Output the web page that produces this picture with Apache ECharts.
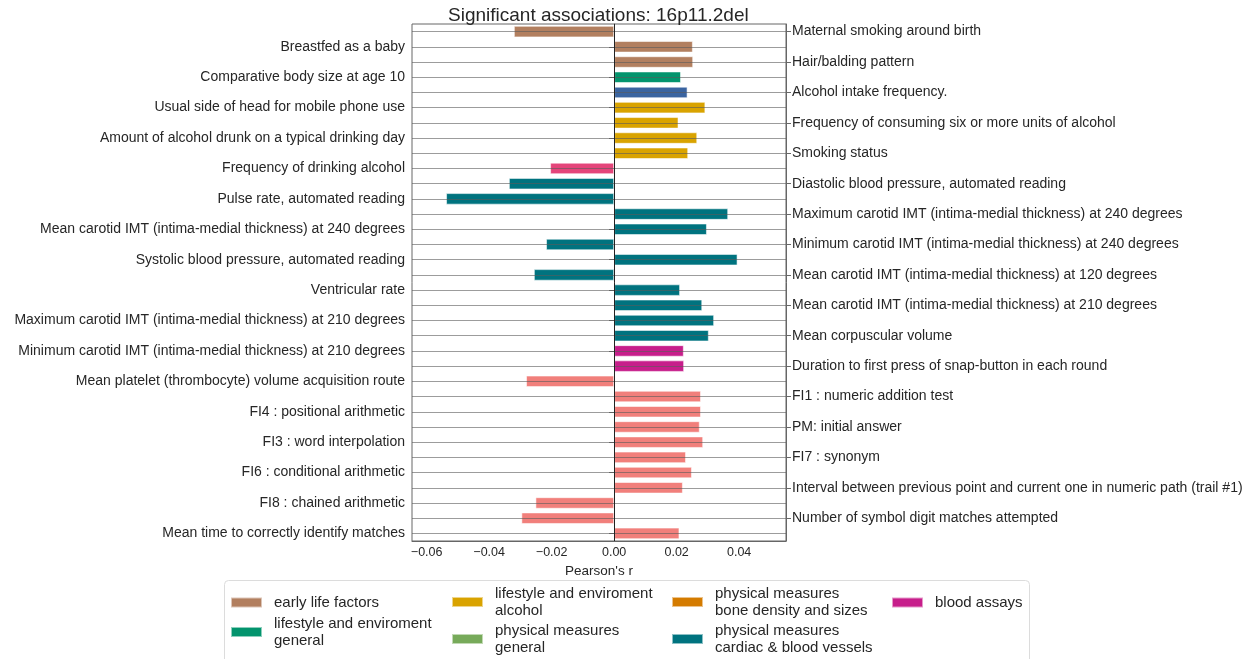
<!DOCTYPE html>
<html>
<head>
<meta charset="utf-8">
<script src="https://cdn.jsdelivr.net/npm/echarts@6/dist/echarts.min.js"></script>
<style>
  html, body { margin: 0; padding: 0; background: #fff; }
  #chart { width: 1255px; height: 659px; }
</style>
</head>
<body>
<div id="chart"></div>
<script>
// Rows from top to bottom; labels alternate between the left and right axis.
const rowLabels = [
  'Maternal smoking around birth',
  'Breastfed as a baby',
  'Hair/balding pattern',
  'Comparative body size at age 10',
  'Alcohol intake frequency.',
  'Usual side of head for mobile phone use',
  'Frequency of consuming six or more units of alcohol',
  'Amount of alcohol drunk on a typical drinking day',
  'Smoking status',
  'Frequency of drinking alcohol',
  'Diastolic blood pressure, automated reading',
  'Pulse rate, automated reading',
  'Maximum carotid IMT (intima-medial thickness) at 240 degrees',
  'Mean carotid IMT (intima-medial thickness) at 240 degrees',
  'Minimum carotid IMT (intima-medial thickness) at 240 degrees',
  'Systolic blood pressure, automated reading',
  'Mean carotid IMT (intima-medial thickness) at 120 degrees',
  'Ventricular rate',
  'Mean carotid IMT (intima-medial thickness) at 210 degrees',
  'Maximum carotid IMT (intima-medial thickness) at 210 degrees',
  'Mean corpuscular volume',
  'Minimum carotid IMT (intima-medial thickness) at 210 degrees',
  'Duration to first press of snap-button in each round',
  'Mean platelet (thrombocyte) volume acquisition route',
  'FI1 : numeric addition test',
  'FI4 : positional arithmetic',
  'PM: initial answer',
  'FI3 : word interpolation',
  'FI7 : synonym',
  'FI6 : conditional arithmetic',
  'Interval between previous point and current one in numeric path (trail #1)',
  'FI8 : chained arithmetic',
  'Number of symbol digit matches attempted',
  'Mean time to correctly identify matches'
];

// Pearson's r per row
const pearsonR = [
  -0.0321, 0.0252, 0.0253, 0.0214, 0.0235, 0.0292, 0.0206, 0.0266, 0.0237,
  -0.0205, -0.0337, -0.0538, 0.0365, 0.0297, -0.0218, 0.0395, -0.0257,
  0.0211, 0.0282, 0.0320, 0.0303, 0.0223, 0.0224, -0.0282, 0.0278,
  0.0278, 0.0274, 0.0285, 0.0230, 0.0249, 0.0220, -0.0252, -0.0297, 0.0209
];

// Category of each row
const rowGroup = [
  'early', 'early', 'early', 'lifeGeneral', 'alcoholIntake',
  'alcohol', 'alcohol', 'alcohol', 'alcohol', 'drinking',
  'cardiac', 'cardiac', 'cardiac', 'cardiac', 'cardiac', 'cardiac', 'cardiac',
  'cardiac', 'cardiac', 'cardiac', 'cardiac', 'blood', 'blood',
  'cognitive', 'cognitive', 'cognitive', 'cognitive', 'cognitive', 'cognitive',
  'cognitive', 'cognitive', 'cognitive', 'cognitive', 'cognitive'
];

const groupKeys = ['early', 'lifeGeneral', 'alcoholIntake', 'alcohol', 'drinking',
  'physGeneral', 'bone', 'cardiac', 'blood', 'cognitive'];

const groupNames = {
  early: 'early life factors',
  lifeGeneral: 'lifestyle and enviroment general',
  alcoholIntake: 'alcohol intake',
  alcohol: 'lifestyle and enviroment alcohol',
  drinking: 'drinking frequency',
  physGeneral: 'physical measures general',
  bone: 'physical measures bone density and sizes',
  cardiac: 'physical measures cardiac & blood vessels',
  blood: 'blood assays',
  cognitive: 'cognitive function'
};

const legendText = {
  early: 'early life factors',
  lifeGeneral: 'lifestyle and enviroment\ngeneral',
  alcohol: 'lifestyle and enviroment\nalcohol',
  physGeneral: 'physical measures\ngeneral',
  bone: 'physical measures\nbone density and sizes',
  cardiac: 'physical measures\ncardiac & blood vessels',
  blood: 'blood assays'
};

const groupColors = {
  early: '#b27f5f',
  lifeGeneral: '#03946d',
  alcoholIntake: '#3a64a0',
  alcohol: '#d9a300',
  drinking: '#e4457a',
  physGeneral: '#77aa5a',
  bone: '#d47b00',
  cardiac: '#00737f',
  blood: '#c71e8b',
  cognitive: '#f17f7b'
};

const xTicks = [-0.06, -0.04, -0.02, 0, 0.02, 0.04];

const FONT = "'Liberation Sans', Arial, sans-serif";
const TEXT = '#262626';
const FRAME = '#666666';

// legend slots: [key, left, top]
const legendSlots = [
  ['early', 230, 594],
  ['lifeGeneral', 230, 615],
  ['alcohol', 451, 585],
  ['physGeneral', 451, 622],
  ['bone', 671, 585],
  ['cardiac', 671, 622],
  ['blood', 891, 594]
];

const series = groupKeys.map((g, gi) => {
  const s = {
    name: groupNames[g],
    type: 'bar',
    stack: 'r',
    barWidth: '76%',
    yAxisIndex: 0,
    color: groupColors[g],
    itemStyle: { color: groupColors[g], borderColor: 'rgba(255,255,255,0.55)', borderWidth: 1 },
    data: pearsonR.map((v, i) => (rowGroup[i] === g ? v : '-')),
    silent: true,
    animation: false
  };
  if (gi === 0) {
    s.markLine = {
      silent: true,
      symbol: 'none',
      z: 10,
      animation: false,
      label: { show: false },
      data: rowLabels.map(l => ({ yAxis: l, lineStyle: { color: 'rgba(90,90,90,0.6)', width: 1, type: 'solid' } }))
        .concat([{ xAxis: 0, lineStyle: { color: '#222', width: 1, type: 'solid' } }])
    };
  }
  return s;
});

const legends = legendSlots.map(([key, left, top]) => ({
  data: [groupNames[key]],
  left: left,
  top: top,
  padding: 0,
  orient: 'vertical',
  icon: 'rect',
  itemWidth: 31,
  itemHeight: 10,
  selectedMode: false,
  formatter: () => legendText[key],
  textStyle: { fontFamily: FONT, fontSize: 15, color: TEXT, lineHeight: 17, padding: [0, 0, 0, 7] }
}));

const catAxis = (pos, keep, margin) => ({
  type: 'category',
  position: pos,
  data: rowLabels,
  inverse: true,
  axisLine: { show: true, lineStyle: { color: FRAME, width: 1 } },
  axisTick: { show: true, alignWithLabel: true, interval: (i) => keep(i), length: 5, lineStyle: { color: FRAME } },
  axisLabel: { interval: (i) => keep(i), fontFamily: FONT, fontSize: 14, color: TEXT, margin: margin, padding: [2, 0, 0, 0] },
  splitLine: { show: false }
});

const chart = echarts.init(document.getElementById('chart'), null, { renderer: 'canvas' });
chart.setOption({
  animation: false,
  backgroundColor: '#fff',
  title: {
    text: 'Significant associations: 16p11.2del',
    left: 448,
    top: 6,
    padding: 0,
    textStyle: { fontFamily: FONT, fontSize: 19, fontWeight: 'normal', color: TEXT }
  },
  graphic: [{
    type: 'rect',
    shape: { x: 224.5, y: 580.5, width: 805, height: 110, r: 4 },
    style: { fill: '#fff', stroke: '#dcdcdc', lineWidth: 1 },
    z: -1,
    silent: true
  }],
  legend: legends,
  grid: {
    left: 412, top: 24, width: 374, height: 517,
    show: true, borderColor: FRAME, borderWidth: 1, backgroundColor: 'transparent'
  },
  xAxis: {
    type: 'value',
    min: -0.0647,
    max: 0.055,
    name: "Pearson's r",
    nameLocation: 'middle',
    nameGap: 11,
    nameTextStyle: { fontFamily: FONT, fontSize: 13.5, color: TEXT, verticalAlign: 'top' },
    axisLine: { show: true, lineStyle: { color: FRAME } },
    axisTick: { show: false },
    splitLine: { show: false },
    axisLabel: {
      customValues: xTicks,
      fontFamily: FONT, fontSize: 12.5, color: TEXT, margin: 5,
      formatter: (v) => (v < 0 ? '\u2212' : '') + Math.abs(v).toFixed(2)
    }
  },
  yAxis: [
    catAxis('left', i => i % 2 === 1, 7),
    catAxis('right', i => i % 2 === 0, 6)
  ],
  series: series
});
</script>
</body>
</html>
